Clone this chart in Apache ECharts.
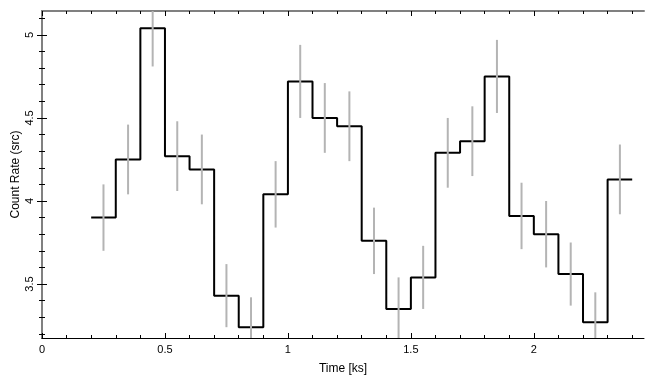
<!DOCTYPE html>
<html>
<head>
<meta charset="utf-8">
<script src="https://cdn.jsdelivr.net/npm/echarts@6/dist/echarts.min.js"></script>
<style>
  html, body { margin: 0; padding: 0; background: #fff; }
  #lightCurve { width: 655px; height: 385px; }
</style>
</head>
<body>
<div id="lightCurve"></div>
<script>
// bin centres (ks), count rates and 1-sigma errors
const timeCenters = [0.25, 0.35, 0.45, 0.55, 0.65, 0.75, 0.85, 0.95, 1.05, 1.15, 1.25,
                     1.35, 1.45, 1.55, 1.65, 1.75, 1.85, 1.95, 2.05, 2.15, 2.25, 2.35];
const rates = [3.90, 4.25, 5.04, 4.27, 4.19, 3.43, 3.24, 4.04, 4.72, 4.50, 4.45,
               3.76, 3.35, 3.54, 4.29, 4.36, 4.75, 3.91, 3.80, 3.56, 3.27, 4.13];
const rateErrors = [0.20, 0.21, 0.23, 0.21, 0.21, 0.19, 0.18, 0.20, 0.22, 0.21, 0.21,
                    0.20, 0.19, 0.19, 0.21, 0.21, 0.22, 0.20, 0.20, 0.19, 0.18, 0.21];
const binWidth = 0.1;

// tick labels
const xMajorTicks = [0, 0.5, 1, 1.5, 2];
const xMinorTicks = [0.1, 0.2, 0.3, 0.4, 0.6, 0.7, 0.8, 0.9, 1.1, 1.2, 1.3, 1.4,
                     1.6, 1.7, 1.8, 1.9, 2.1, 2.2, 2.3, 2.4];
const yMajorTicks = [3.5, 4, 4.5, 5];
const yMinorTicks = [3.2, 3.3, 3.4, 3.6, 3.7, 3.8, 3.9, 4.1, 4.2, 4.3, 4.4,
                     4.6, 4.7, 4.8, 4.9, 5.1];

const xRange = [0, 2.448];
const yRange = [3.175, 5.144];

const chart = echarts.init(document.getElementById('lightCurve'));

// step line: left edge of every bin, plus the right edge of the last one
let stepData = timeCenters.map((t, i) => [t - binWidth / 2, rates[i]]);
stepData.push([timeCenters[timeCenters.length - 1] + binWidth / 2, rates[rates.length - 1]]);

const errData = timeCenters.map((t, i) => [t, rates[i], rateErrors[i]]);

const font = { fontFamily: 'Liberation Sans', fontSize: 11, color: '#000' };

function xAxisCfg(pos, ticks, len, lineColor, lineWidth, labels) {
  return {
    type: 'value', position: pos, min: xRange[0], max: xRange[1],
    axisLine: { show: lineColor != null, lineStyle: { color: lineColor || '#000', width: lineWidth } },
    axisTick: { show: true, inside: true, length: len, customValues: ticks,
                lineStyle: { color: '#000', width: 1 } },
    axisLabel: { show: labels, customValues: ticks, margin: 6, ...font,
                 formatter: v => String(v) },
    splitLine: { show: false }
  };
}
function yAxisCfg(pos, ticks, len, lineColor, lineWidth, labels) {
  return {
    type: 'value', position: pos, min: yRange[0], max: yRange[1],
    axisLine: { show: lineColor != null, lineStyle: { color: lineColor || '#000', width: lineWidth } },
    axisTick: { show: true, inside: true, length: len, customValues: ticks,
                lineStyle: { color: '#000', width: 1 } },
    axisLabel: { show: labels, customValues: ticks, margin: 7, rotate: 90, ...font,
                 formatter: v => String(v) },
    splitLine: { show: false }
  };
}

let xAxes = [
  xAxisCfg('bottom', xMajorTicks, 5, '#000', 1, true),
  xAxisCfg('bottom', xMinorTicks, 3, null, 1, false),
  xAxisCfg('top', xMajorTicks, 5, '#808080', 2, false),
  xAxisCfg('top', xMinorTicks, 3, null, 1, false)
];
xAxes[0].name = 'Time [ks]';
xAxes[0].nameLocation = 'middle';
xAxes[0].nameGap = 25;
xAxes[0].nameMoveOverlap = false;
xAxes[0].nameTextStyle = { ...font, fontSize: 12 };

let yAxes = [
  yAxisCfg('left', yMajorTicks, 5, '#808080', 2, true),
  yAxisCfg('left', yMinorTicks, 3, null, 1, false),
  yAxisCfg('right', yMajorTicks, 5, '#808080', 2, false),
  yAxisCfg('right', yMinorTicks, 3, null, 1, false)
];
yAxes[0].name = 'Count Rate (src)';
yAxes[0].nameLocation = 'middle';
yAxes[0].nameGap = 20;
yAxes[0].nameMoveOverlap = false;
yAxes[0].nameTextStyle = { ...font, fontSize: 12 };

chart.setOption({
  animation: false,
  backgroundColor: '#fff',
  grid: { left: 42, right: 11, top: 11, bottom: 47, containLabel: false, outerBoundsMode: 'none' },
  xAxis: xAxes,
  yAxis: yAxes,
  series: [
    {
      name: 'rate',
      type: 'line',
      step: 'end',
      symbol: 'none',
      xAxisIndex: 0, yAxisIndex: 0,
      lineStyle: { color: '#000', width: 2 },
      data: stepData,
      z: 2
    },
    {
      name: 'error',
      type: 'custom',
      xAxisIndex: 0, yAxisIndex: 0,
      clip: true,
      z: 3,
      renderItem: function (params, api) {
        const x = api.value(0), y = api.value(1), e = api.value(2);
        const p1 = api.coord([x, y - e]);
        const p2 = api.coord([x, y + e]);
        return {
          type: 'line',
          shape: { x1: p1[0], y1: p1[1], x2: p2[0], y2: p2[1] },
          style: { stroke: '#b4b4b4', lineWidth: 2 }
        };
      },
      data: errData
    }
  ]
});
</script>
</body>
</html>
